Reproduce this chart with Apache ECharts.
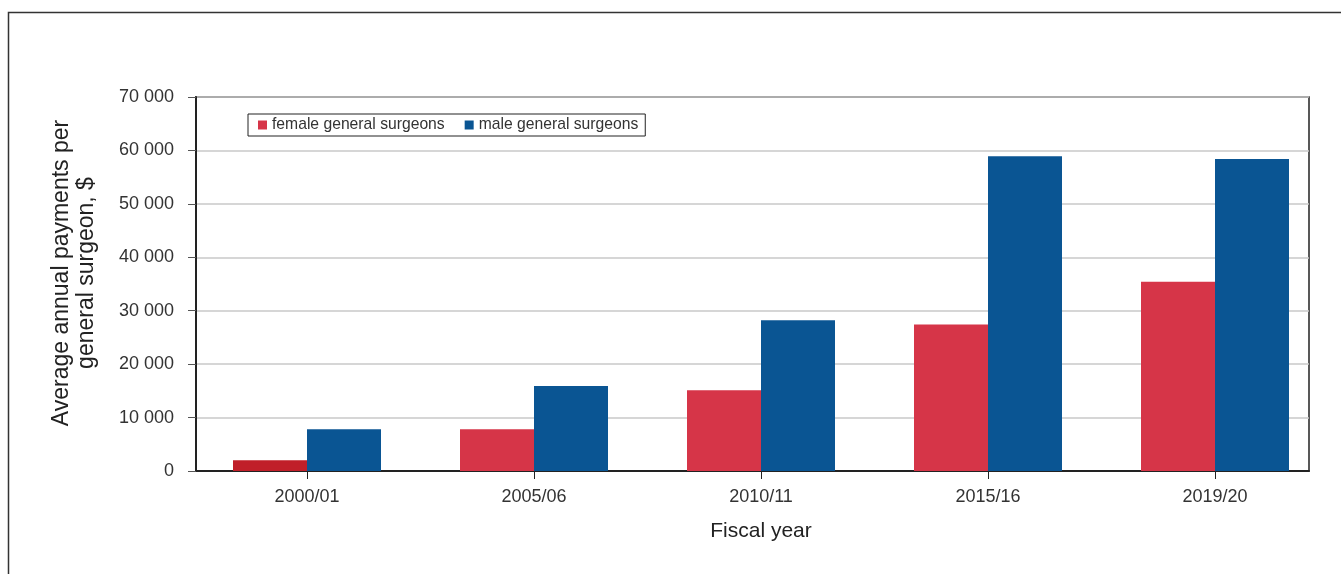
<!DOCTYPE html>
<html><head><meta charset="utf-8">
<script src="https://cdn.jsdelivr.net/npm/echarts@6/dist/echarts.min.js"></script>
<style>html,body{margin:0;padding:0;background:#fff}#c{width:1341px;height:574px}</style>
</head><body><div id="c"></div>
<script>
const categories = ['2000/01', '2005/06', '2010/11', '2015/16', '2019/20'];
const femaleValues = [2000, 7800, 15100, 27400, 35400];
const maleValues = [7800, 15900, 28200, 58900, 58400];
const yTicks = [0, 10000, 20000, 30000, 40000, 50000, 60000, 70000];
const seriesNames = ['female general surgeons', 'male general surgeons'];

const FONT = 'Liberation Sans';
const femaleColor = '#D63548';
const femaleFirstColor = '#C01F29';
const maleColor = '#0A5593';
const fmt = v => String(v).replace(/\B(?=(\d{3})+(?!\d))/g, ' ');

const chart = echarts.init(document.getElementById('c'), null, {renderer: 'canvas'});
chart.setOption({
  animation: false,
  textStyle: {fontFamily: FONT},
  graphic: [{
    type: 'rect', silent: true,
    shape: {x: 8.5, y: 12.5, width: 1400, height: 700},
    style: {fill: 'none', stroke: '#333', lineWidth: 1.5}
  }],
  grid: [
    {left: 196, right: 32, top: 97, bottom: 103, show: true, borderColor: '#222', borderWidth: 1.5, backgroundColor: 'transparent'},
    {left: 193.5, right: 12.5, top: 97, bottom: 103}
  ],
  legend: {
    left: 248, top: 114,
    data: seriesNames,
    icon: 'rect', itemWidth: 9, itemHeight: 9, itemGap: 20,
    borderColor: '#222', borderWidth: 1, padding: [3, 7, 3, 10],
    textStyle: {fontFamily: FONT, fontSize: 15.7, color: '#333'}
  },
  xAxis: [
    {
      gridIndex: 0, type: 'category', data: categories,
      axisLine: {lineStyle: {color: '#222', width: 2}},
      axisTick: {show: false}, axisLabel: {show: false}
    },
    {
      gridIndex: 1, type: 'category', data: categories,
      name: 'Fiscal year', nameLocation: 'middle', nameGap: 50,
      nameTextStyle: {fontFamily: FONT, fontSize: 21, color: '#222'},
      axisLine: {show: false},
      axisTick: {show: true, alignWithLabel: true, length: 8, lineStyle: {color: '#222'}},
      axisLabel: {fontFamily: FONT, fontSize: 18, color: '#333', margin: 17}
    }
  ],
  yAxis: [
    {
      gridIndex: 0, type: 'value', min: 0, max: 70000, interval: 10000,
      name: 'Average annual payments per\ngeneral surgeon, $', nameLocation: 'middle', nameGap: 97,
      nameTextStyle: {fontFamily: FONT, fontSize: 23, color: '#222', lineHeight: 25, padding: [0, 0, 0, 22]},
      axisLine: {show: true, lineStyle: {color: '#222', width: 2}},
      axisTick: {show: true, length: 8, lineStyle: {color: '#555'}},
      splitLine: {lineStyle: {color: '#c8c8c8', width: 1.5}},
      axisLabel: {fontFamily: FONT, fontSize: 18, color: '#333', margin: 22,
        formatter: v => yTicks.includes(v) ? fmt(v) : ''}
    },
    {
      gridIndex: 1, type: 'value', min: 0, max: 70000, interval: 10000, show: false,
      splitLine: {show: false}
    }
  ],
  series: [
    {name: seriesNames[0], type: 'bar', xAxisIndex: 1, yAxisIndex: 1, barWidth: 74, barGap: '0%',
     itemStyle: {color: femaleColor},
     data: femaleValues.map((v, i) => i === 0 ? {value: v, itemStyle: {color: femaleFirstColor}} : v)},
    {name: seriesNames[1], type: 'bar', xAxisIndex: 1, yAxisIndex: 1, barWidth: 74, barGap: '0%',
     itemStyle: {color: maleColor}, data: maleValues}
  ]
});
</script></body></html>
